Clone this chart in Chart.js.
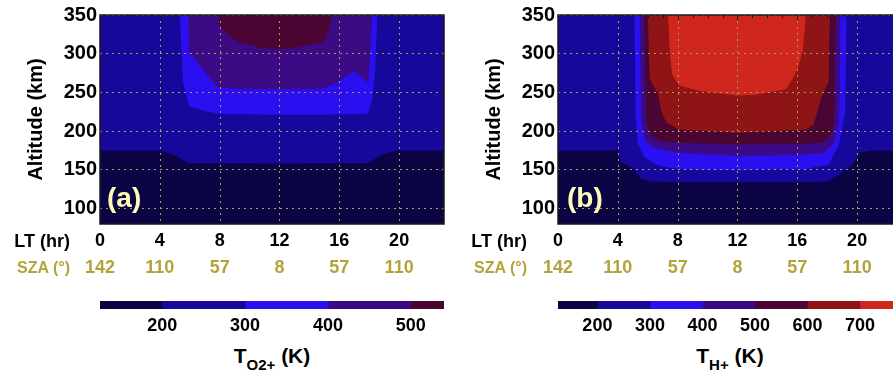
<!DOCTYPE html>
<html>
<head>
<meta charset="utf-8">
<script src="https://cdn.jsdelivr.net/npm/chart.js@4.4.1/dist/chart.umd.min.js"></script>
<style>
  html, body { margin: 0; padding: 0; background: #fff; }
  body { width: 893px; height: 376px; overflow: hidden; position: relative;
         font-family: "Liberation Sans", Arial, sans-serif; font-weight: bold; }
  canvas { position: absolute; }
  .lbl { position: absolute; white-space: nowrap; line-height: 1; }
  .row { font-size: 18px; color: #000; text-align: right; }
  .sza { font-size: 16px; color: #b4a23a; text-align: right; }
  .tag { font-size: 28px; color: #fffab4; }
  .ttl { font-size: 21px; color: #000; text-align: center; }
  .ttl span { font-size: 15px; position: relative; top: 7px; }
</style>
</head>
<body>
<canvas id="contA" width="455" height="290" style="left:0;top:0"></canvas>
<canvas id="contB" width="455" height="290" style="left:458px;top:0"></canvas>
<canvas id="barA" width="455" height="42" style="left:0;top:301px"></canvas>
<canvas id="barB" width="455" height="42" style="left:458px;top:301px"></canvas>

<div class="lbl row" style="left:0;width:70px;top:232px">LT (hr)</div>
<div class="lbl sza" style="left:0;width:70px;top:260px">SZA (°)</div>
<div class="lbl row" style="left:458px;width:69px;top:232px">LT (hr)</div>
<div class="lbl sza" style="left:458px;width:69px;top:260px">SZA (°)</div>
<div class="lbl tag" style="left:107px;top:184px">(a)</div>
<div class="lbl tag" style="left:567px;top:184px">(b)</div>
<div class="lbl ttl" style="left:100px;width:344px;top:345px">T<span>O2+</span> (K)</div>
<div class="lbl ttl" style="left:558px;width:344px;top:345px">T<span>H+</span> (K)</div>

<script>
const ltTicks = [0, 4, 8, 12, 16, 20];
const szaTicks = ['142', '110', '57', '8', '57', '110'];
const altTicks = [100, 150, 200, 250, 300, 350];
const cbTicks = [200, 300, 400, 500, 600, 700];

// contour boundaries [LT hr, altitude km]; the area above each line is warmer than that level
// panel (a), T O2+
const a125 = [[0, 80], [23, 80]];
const a200 = [[0, 175], [4, 175], [5, 169], [5.9, 158.5], [12, 158], [17.9, 158.5], [18.9, 170], [19.9, 175], [23, 175]];
const a300 = [[5.33, 350], [5.45, 298], [5.55, 264], [5.95, 232], [7, 226], [8, 222], [12, 221], [16, 221.5], [17.9, 222.5], [18.2, 240], [18.4, 280], [18.55, 350]];
const a400 = [[5.9, 350], [5.95, 302], [7, 277], [7.9, 256], [10, 254], [12, 254], [14, 254], [15, 255], [16, 264], [16.95, 278], [17.95, 262], [18.2, 350]];
const a500 = [[7.9, 350], [8, 336], [8.5, 325], [9.3, 315], [10.9, 307], [12, 306.5], [12.9, 307], [15, 315], [15.55, 350]];
const levelsA = [125, 200, 300, 400, 500, 540];

// panel (b), T H+
const b125 = [[0, 80], [23, 80]];
const b200 = [[0, 175], [4, 175], [4.15, 161], [5, 152], [5.6, 138], [6.2, 135], [8, 134], [12, 134], [16, 134], [18, 135], [18.8, 144], [19.7, 157], [20.1, 172], [21, 175], [23, 175]];
const b300 = [[5.1, 350], [5.2, 215], [5.35, 183], [5.8, 166], [6.8, 155], [8.4, 150], [12, 149], [16.6, 151], [18.1, 157], [18.8, 183], [19.2, 225], [19.3, 350]];
const b400 = [[5.45, 350], [5.58, 213], [5.8, 189], [6.36, 179], [7.9, 172], [12, 168], [16, 169], [17.8, 172], [18.47, 185], [18.8, 213], [18.9, 350]];
const b500 = [[5.75, 350], [5.9, 213], [6.13, 196], [6.8, 187], [7.9, 185], [12, 183], [16, 183.5], [17.7, 185], [18.25, 194], [18.47, 213], [18.58, 350]];
const b600 = [[6.0, 350], [6.13, 268], [6.7, 247], [6.9, 226], [7.24, 211], [8.1, 202], [12, 198], [16.6, 202], [17.1, 209], [17.35, 226], [17.6, 243], [18.1, 264], [18.18, 350]];
const b700 = [[7.36, 350], [7.47, 303], [7.64, 273], [8.1, 259], [9.4, 252], [12, 246], [13.2, 247], [14.7, 252], [15.24, 254], [15.7, 268], [16.0, 280], [16.36, 303], [16.58, 350]];
const levelsB = [125, 200, 300, 400, 500, 600, 700, 780];

const palette = ['#0b0444', '#15089a', '#2a10f0', '#3b0a84', '#4a0532', '#8e1416', '#cf271e'];
const olive = '#b4a23a';
const gridColor = '#b09c48';
const family = '"Liberation Sans", Arial, sans-serif';

Chart.defaults.font.family = family;

// dotted LT grid over the fills, then the box with small inward ticks on top and right
const frame = {
  id: 'frame',
  afterDatasetsDraw(chart) {
    const { ctx, chartArea: a, scales } = chart;
    if (!scales.y) return;
    ctx.save();
    ctx.strokeStyle = gridColor;
    ctx.lineWidth = 1;
    ctx.setLineDash([2, 4]);
    ctx.beginPath();
    scales.x.ticks.forEach(t => {
      if (t.value <= scales.x.min) return;
      const px = Math.round(scales.x.getPixelForValue(t.value)) + 0.5;
      ctx.moveTo(px, a.top);
      ctx.lineTo(px, a.bottom);
    });
    ctx.stroke();
    ctx.restore();
  },
  afterDraw(chart) {
    const { ctx, chartArea: a, scales } = chart;
    if (!scales.y) return;
    ctx.save();
    ctx.strokeStyle = '#1a1a1a';
    ctx.lineWidth = 1;
    ctx.beginPath();
    for (let h = 1; h < 23; h++) {
      const px = Math.round(scales.x.getPixelForValue(h)) + 0.5;
      const len = h % 4 === 0 ? 5 : 3;
      ctx.moveTo(px, a.top);
      ctx.lineTo(px, a.top + len);
    }
    for (let k = 90; k < 350; k += 10) {
      const py = Math.round(scales.y.getPixelForValue(k)) + 0.5;
      const len = k % 50 === 0 ? 5 : 3;
      ctx.moveTo(a.right, py);
      ctx.lineTo(a.right - len, py);
    }
    ctx.stroke();
    ctx.lineWidth = 1.5;
    ctx.strokeRect(a.left, a.top, a.right - a.left, a.bottom - a.top);
    ctx.restore();
  }
};

function contour(id, bounds) {
  return new Chart(document.getElementById(id), {
    type: 'line',
    data: {
      datasets: bounds.map((pts, i) => ({
        data: pts.map(p => ({ x: p[0], y: p[1] })),
        fill: 'end',
        backgroundColor: palette[i],
        borderColor: 'rgba(0,0,0,0)',
        borderWidth: 0,
        pointRadius: 0,
        tension: 0,
        order: bounds.length - i
      }))
    },
    options: {
      responsive: false,
      animation: false,
      events: [],
      layout: { padding: { top: 13, right: 11, left: 0, bottom: 0 } },
      plugins: { legend: { display: false }, tooltip: { enabled: false } },
      scales: {
        x: {
          type: 'linear', min: 0, max: 23, position: 'bottom', weight: 0,
          afterBuildTicks: s => { s.ticks = ltTicks.map(v => ({ value: v })); },
          afterFit: s => { s.height = 28; },
          grid: { display: false, drawTicks: false },
          border: { display: false },
          ticks: { color: '#000', font: { size: 18, weight: 'bold' }, padding: 6, maxRotation: 0, autoSkip: false }
        },
        sza: {
          type: 'linear', min: 0, max: 23, position: 'bottom', weight: 1,
          afterBuildTicks: s => { s.ticks = ltTicks.map(v => ({ value: v })); },
          afterFit: s => { s.height = 38; },
          grid: { display: false, drawTicks: false },
          border: { display: false },
          ticks: { color: olive, font: { size: 18, weight: 'bold' }, padding: 5, maxRotation: 0, autoSkip: false,
                   callback: (v, i) => szaTicks[i] }
        },
        y: {
          type: 'linear', min: 80, max: 350,
          afterBuildTicks: s => { s.ticks = altTicks.map(v => ({ value: v })); },
          afterFit: s => { s.width = 100; },
          grid: { z: 1, color: gridColor, lineWidth: 1, drawTicks: false },
          border: { display: false, dash: [2, 4] },
          ticks: { color: '#000', font: { size: 20, weight: 'bold' }, padding: 3 },
          title: { display: true, text: 'Altitude (km)', color: '#000',
                   font: { size: 20, weight: 'bold' }, padding: { top: 24, bottom: 0 } }
        }
      }
    },
    plugins: [frame]
  });
}

function colorbar(id, levels) {
  return new Chart(document.getElementById(id), {
    type: 'bar',
    data: {
      labels: ['T'],
      datasets: levels.slice(0, -1).map((lo, i) => ({
        data: [[lo, levels[i + 1]]],
        backgroundColor: palette[i],
        borderWidth: 0,
        barPercentage: 1,
        categoryPercentage: 1,
        grouped: false
      }))
    },
    options: {
      indexAxis: 'y',
      responsive: false,
      animation: false,
      events: [],
      layout: { padding: { left: 100, right: 11, top: 0, bottom: 0 } },
      plugins: { legend: { display: false }, tooltip: { enabled: false } },
      scales: {
        x: {
          type: 'linear', min: levels[0], max: levels[levels.length - 1],
          afterBuildTicks: s => { s.ticks = cbTicks.filter(v => v < s.max).map(v => ({ value: v })); },
          afterFit: s => { s.height = 34; },
          grid: { display: false, drawTicks: false },
          border: { display: false },
          ticks: { color: '#000', font: { size: 18, weight: 'bold' }, padding: 6, maxRotation: 0, autoSkip: false }
        },
        y: { display: false }
      }
    }
  });
}

contour('contA', [a125, a200, a300, a400, a500]);
contour('contB', [b125, b200, b300, b400, b500, b600, b700]);
colorbar('barA', levelsA);
colorbar('barB', levelsB);
</script>
</body>
</html>
